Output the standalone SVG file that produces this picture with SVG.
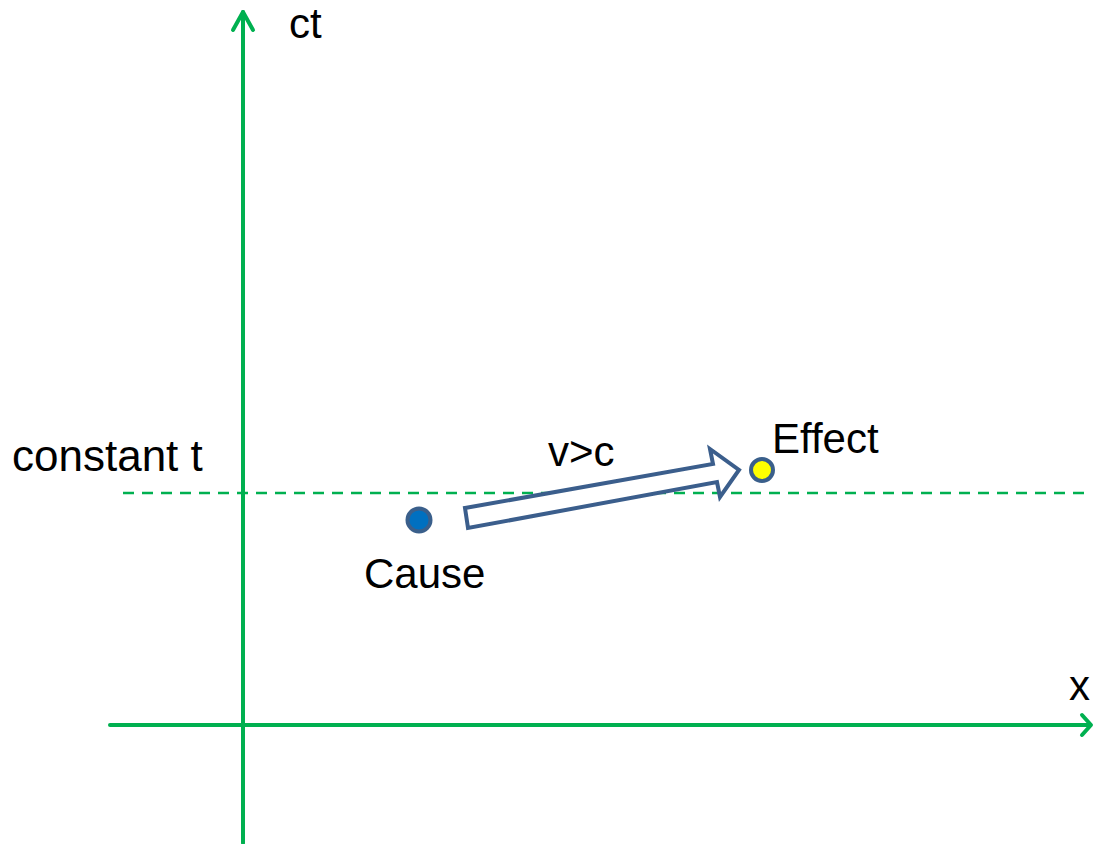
<svg xmlns="http://www.w3.org/2000/svg" width="1095" height="844" viewBox="0 0 1095 844">
<style>
.axis{stroke:#00B050;stroke-width:4;fill:none;stroke-linecap:round;stroke-linejoin:round}
.dash{stroke:#00B050;stroke-width:2.5;stroke-dasharray:11 8;fill:none}
.lbl{font-family:"Liberation Sans",Arial,sans-serif;font-size:42px;fill:#000}
.pt{stroke:#3A5F8B;stroke-width:4}
</style>
<rect width="1095" height="844" fill="#fff"/>
<g id="connectors">
<line class="axis" x1="243" y1="843" x2="243" y2="12"/>
<polyline class="axis" points="233,30 243,12 253,30"/>
<line class="axis" x1="110" y1="725" x2="1090" y2="725"/>
<polyline class="axis" points="1082,715 1091,725 1082,735"/>
<line class="dash" x1="123" y1="493" x2="1085" y2="493"/>
<polygon points="465,508 713,464 710,449 739,470 720,497 717,482 468,528" fill="#fff" stroke="#3B5E8C" stroke-width="4" stroke-linejoin="miter"/>
</g>
<g id="ct"><text class="lbl" x="289" y="38">ct</text></g>
<g id="x"><text class="lbl" x="1069" y="700">x</text></g>
<g id="constant"><text class="lbl" x="12" y="471" style="font-size:44px">constant t</text></g>
<g id="vc"><text class="lbl" x="548" y="466">v&gt;c</text></g>
<g id="cause"><circle class="pt" cx="419" cy="520" r="11.5" fill="#0070C0"/><text class="lbl" x="364" y="588">Cause</text></g>
<g id="effect"><circle class="pt" cx="762" cy="470" r="11" fill="#FFFF00"/><text class="lbl" x="772" y="453">Effect</text></g>
</svg>
